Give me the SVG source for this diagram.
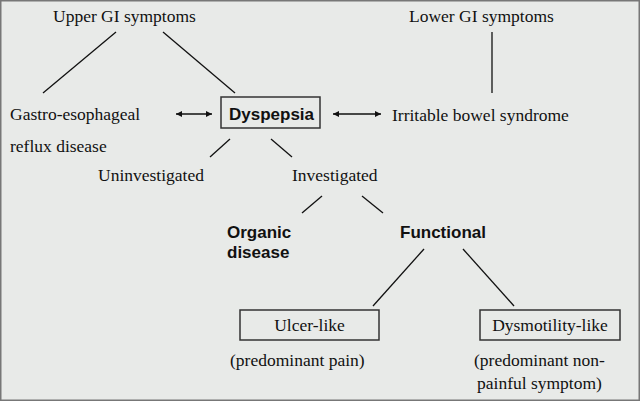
<svg xmlns="http://www.w3.org/2000/svg" width="640" height="401" viewBox="0 0 640 401">
<style>
.t{font-family:"Liberation Serif","Times New Roman",serif;font-size:17.5px;fill:#111}
.b{font-family:"Liberation Sans",Arial,sans-serif;font-size:17px;font-weight:bold;fill:#111}
.ln{stroke:#111;stroke-width:1.3;fill:none}
.box{fill:none;stroke:#333;stroke-width:1.5}
</style>
<defs>
<marker id="ah" viewBox="0 0 10 10" refX="10" refY="5" markerWidth="9" markerHeight="6" orient="auto-start-reverse" markerUnits="userSpaceOnUse">
<path d="M0,0 L10,5 L0,10 z" fill="#111"/>
</marker>
</defs>
<rect x="0.75" y="0.75" width="638.5" height="399.5" fill="#e8eae8" stroke="#777" stroke-width="1.5"/>
<g id="connectors">
<line class="ln" x1="116" y1="32" x2="43" y2="93"/>
<line class="ln" x1="163" y1="32" x2="235" y2="93"/>
<line class="ln" x1="492" y1="32" x2="492" y2="93"/>
<line class="ln" x1="176" y1="114" x2="212" y2="114" marker-start="url(#ah)" marker-end="url(#ah)"/>
<line class="ln" x1="333" y1="114" x2="381" y2="114" marker-start="url(#ah)" marker-end="url(#ah)"/>
<line class="ln" x1="230" y1="139" x2="210" y2="157"/>
<line class="ln" x1="271" y1="139" x2="292" y2="157"/>
<line class="ln" x1="322" y1="196" x2="302" y2="213"/>
<line class="ln" x1="362" y1="196" x2="383" y2="213"/>
<line class="ln" x1="424" y1="249" x2="373" y2="306"/>
<line class="ln" x1="463" y1="249" x2="514" y2="306"/>
</g>
<g id="upper"><text class="t" x="53" y="22">Upper GI symptoms</text></g>
<g id="lower"><text class="t" x="409" y="22">Lower GI symptoms</text></g>
<g id="gerd"><text class="t" x="10" y="120">Gastro-esophageal</text><text class="t" x="10" y="152">reflux disease</text></g>
<g id="dyspepsia"><rect class="box" x="221" y="97" width="99" height="31"/><text class="b" x="229" y="120">Dyspepsia</text></g>
<g id="ibs"><text class="t" x="392" y="121">Irritable bowel syndrome</text></g>
<g id="uninvestigated"><text class="t" x="98" y="181">Uninvestigated</text></g>
<g id="investigated"><text class="t" x="292" y="181">Investigated</text></g>
<g id="organic"><text class="b" x="227" y="238">Organic</text><text class="b" x="227" y="258">disease</text></g>
<g id="functional"><text class="b" x="400" y="238">Functional</text></g>
<g id="ulcer"><rect class="box" x="240" y="310" width="139" height="30"/><text class="t" x="309.5" y="331" text-anchor="middle">Ulcer-like</text><text class="t" x="230" y="366">(predominant pain)</text></g>
<g id="dysmotility"><rect class="box" x="480" y="310" width="140" height="30"/><text class="t" x="550" y="331" text-anchor="middle">Dysmotility-like</text><text class="t" x="474" y="366">(predominant non-</text><text class="t" x="477" y="389">painful symptom)</text></g>
</svg>
